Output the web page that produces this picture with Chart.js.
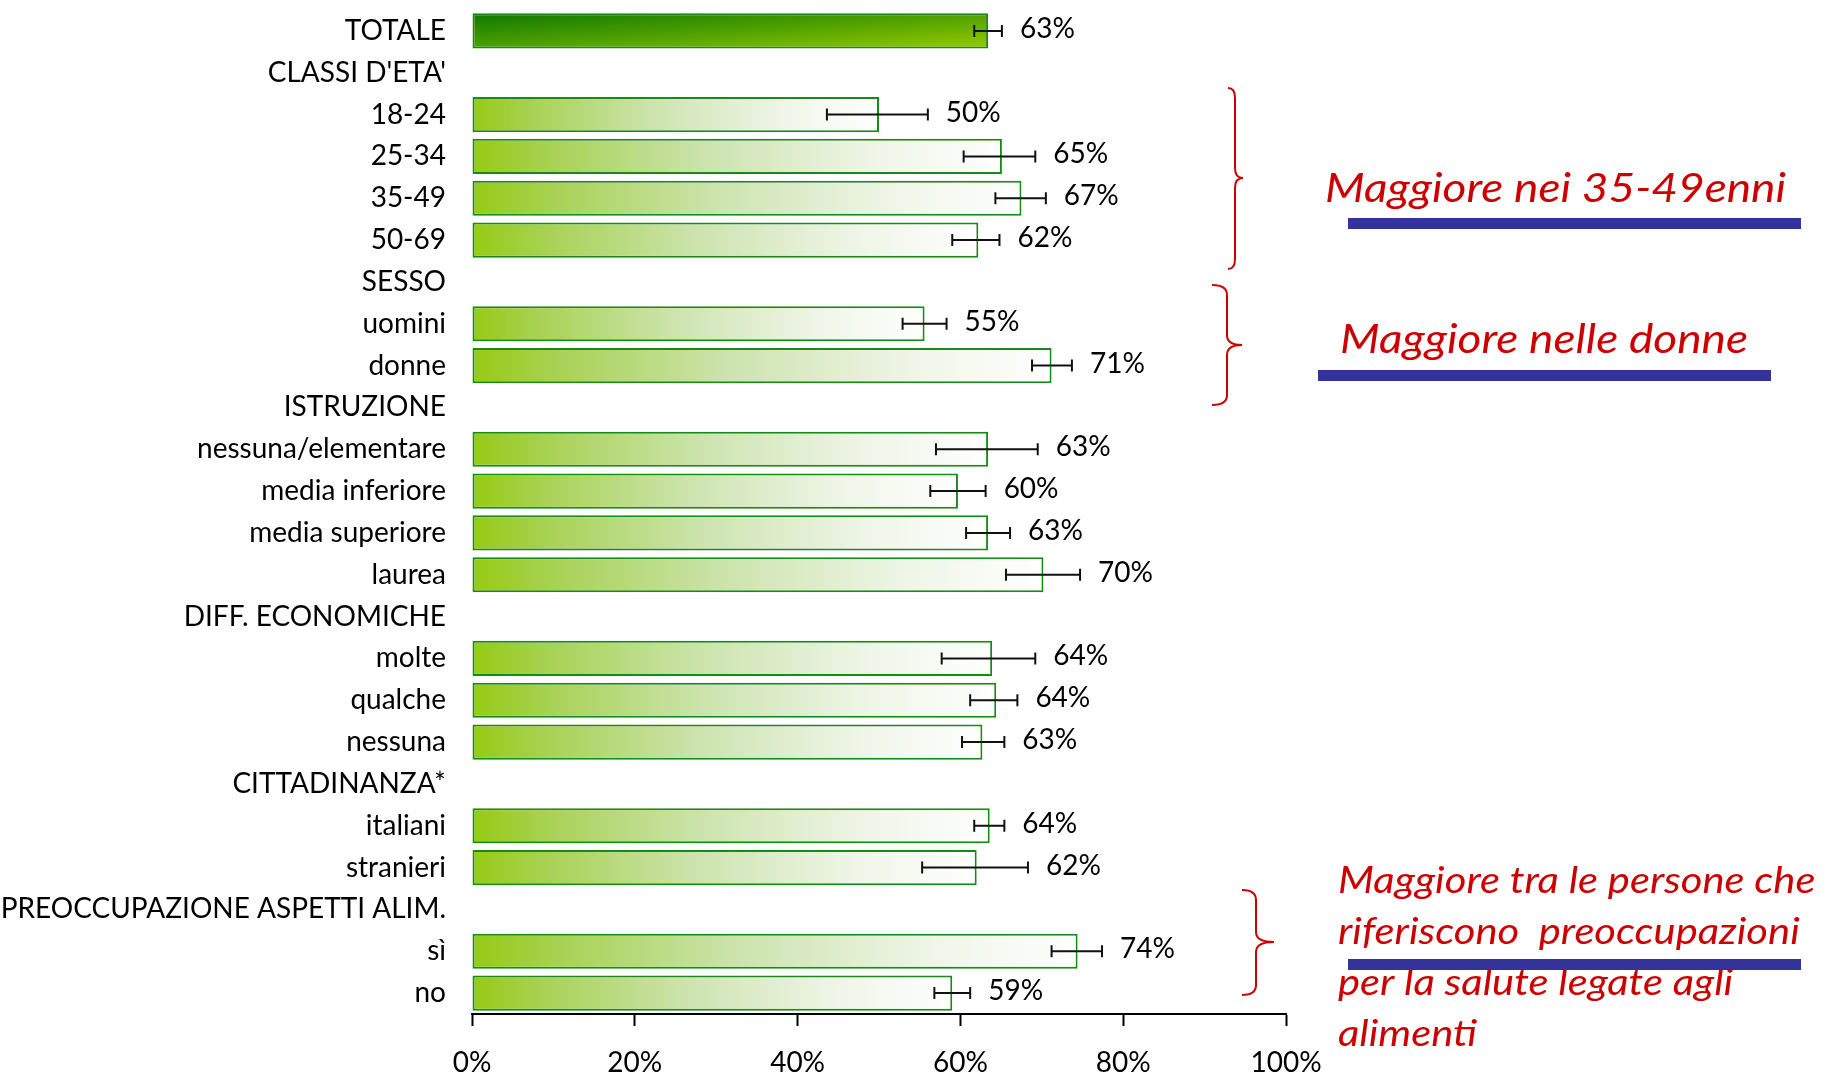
<!DOCTYPE html>
<html>
<head>
<meta charset="utf-8">
<title>Attenzione alimenti</title>
<script src="https://cdn.jsdelivr.net/npm/chart.js@4.4.1/dist/chart.umd.min.js"></script>
<style>
  body { margin: 0; background: #fff; }
</style>
</head>
<body>
<canvas id="myChart" width="1828" height="1076"></canvas>
<script>
const categories = ["TOTALE", "CLASSI D'ETA'", "18-24", "25-34", "35-49", "50-69", "SESSO", "uomini", "donne",
  "ISTRUZIONE", "nessuna/elementare", "media inferiore", "media superiore", "laurea", "DIFF. ECONOMICHE",
  "molte", "qualche", "nessuna", "CITTADINANZA*", "italiani", "stranieri", "PREOCCUPAZIONE ASPETTI ALIM.", "sì", "no"];
const values = [63.4, null, 50.0, 65.1, 67.5, 62.2, null, 55.6, 71.2, null, 63.4, 59.7, 63.4, 70.2, null,
  63.9, 64.4, 62.7, null, 63.6, 62.0, null, 74.4, 59.0];
const errLow = [61.7, null, 43.6, 60.4, 64.3, 59.0, null, 52.9, 68.8, null, 57.0, 56.3, 60.7, 65.6, null,
  57.7, 61.2, 60.2, null, 61.7, 55.3, null, 71.2, 56.8];
const errHigh = [65.1, null, 56.0, 69.2, 70.5, 64.8, null, 58.3, 73.7, null, 69.5, 63.1, 66.1, 74.7, null,
  69.2, 67.0, 65.4, null, 65.4, 68.3, null, 77.4, 61.2];
const valueLabels = ["63%", "", "50%", "65%", "67%", "62%", "", "55%", "71%", "", "63%", "60%", "63%", "70%", "",
  "64%", "64%", "63%", "", "64%", "62%", "", "74%", "59%"];
const xTicks = [0, 20, 40, 60, 80, 100];

const noteAge = ["Maggiore nei 35-49enni"];
const noteSex = ["Maggiore nelle donne"];
const noteFood = ["Maggiore tra le persone che", "riferiscono  preoccupazioni", "per la salute legate agli", "alimenti"];

const FONT = "Lato, 'Open Sans', sans-serif";
Chart.defaults.font.family = FONT;
Chart.defaults.color = "#000";

const ctx = document.querySelector("#myChart");

// fill for each bar: green fading to white, TOTALE gets the dark diagonal one
function barFill(c) {
  const chart = c.chart;
  if (!chart.chartArea || c.type !== "data" || c.raw == null) return "#9acd32";
  const xs = chart.scales.x;
  const ys = chart.scales.y;
  const x0 = xs.getPixelForValue(0);
  const x1 = xs.getPixelForValue(c.raw);
  if (c.dataIndex === 0) {
    const step = ys.getPixelForValue(1) - ys.getPixelForValue(0);
    const h = step * 0.84;
    const yTop = ys.getPixelForValue(0) - h / 2;
    const w = x1 - x0;
    const s = 2 / (1 / (w * w) + 1 / (h * h));
    const g = chart.ctx.createLinearGradient(x0, yTop, x0 + s / w, yTop + s / h);
    g.addColorStop(0, "rgb(14,120,0)");
    g.addColorStop(0.5, "rgb(80,160,0)");
    g.addColorStop(1, "rgb(150,202,0)");
    return g;
  }
  const g = chart.ctx.createLinearGradient(x0, 0, x1, 0);
  g.addColorStop(0, "rgb(150,202,20)");
  g.addColorStop(0.15, "rgb(168,210,85)");
  g.addColorStop(0.45, "rgb(205,228,175)");
  g.addColorStop(0.75, "rgb(238,245,230)");
  g.addColorStop(1, "rgb(255,255,255)");
  return g;
}

const errorBars = {
  id: "errorBars",
  afterDatasetsDraw(chart) {
    const { ctx, scales: { x, y } } = chart;
    ctx.save();
    ctx.strokeStyle = "#111";
    ctx.lineWidth = 2;
    ctx.fillStyle = "#000";
    ctx.font = "28px " + FONT;
    ctx.textBaseline = "middle";
    errLow.forEach((lo, i) => {
      if (lo == null) return;
      const yc = y.getPixelForValue(i);
      const xa = x.getPixelForValue(lo);
      const xb = x.getPixelForValue(errHigh[i]);
      ctx.beginPath();
      ctx.moveTo(xa, yc); ctx.lineTo(xb, yc);
      ctx.moveTo(xa, yc - 6); ctx.lineTo(xa, yc + 6);
      ctx.moveTo(xb, yc - 6); ctx.lineTo(xb, yc + 6);
      ctx.stroke();
      ctx.fillText(valueLabels[i], xb + 18, yc - 2);
    });
    ctx.restore();
  }
};

function brace(c, xl, xm, xr, yTop, yTip, yBot) {
  const r = 10;
  c.beginPath();
  c.moveTo(xl, yTop);
  c.quadraticCurveTo(xm, yTop, xm, yTop + r);
  c.lineTo(xm, yTip - r);
  c.quadraticCurveTo(xm, yTip, xr, yTip);
  c.quadraticCurveTo(xm, yTip, xm, yTip + r);
  c.lineTo(xm, yBot - r);
  c.quadraticCurveTo(xm, yBot, xl, yBot);
  c.stroke();
}

// the slide text is a bit wider than Lato, so stretch it sideways
function wideText(c, text, x, y, sx) {
  c.save();
  c.translate(x, y);
  c.scale(sx, 1);
  c.fillText(text, 0, 0);
  c.restore();
}

const notes = {
  id: "notes",
  afterDraw(chart) {
    const c = chart.ctx;
    c.save();
    c.strokeStyle = "#cc0000";
    c.lineWidth = 2;
    brace(c, 1228, 1235, 1243, 88, 178, 269);
    brace(c, 1212, 1227, 1242, 285, 345, 405);
    brace(c, 1242, 1256, 1274, 890, 942, 995);

    c.fillStyle = "#cc0000";
    c.textBaseline = "alphabetic";
    c.font = "italic 40px " + FONT;
    wideText(c, noteAge[0], 1325, 202, 1.15);
    wideText(c, noteSex[0], 1340, 353, 1.15);
    c.font = "italic 36px " + FONT;
    noteFood.forEach((t, i) => wideText(c, t, 1338, 893 + i * 51, 1.16));

    c.fillStyle = "#333399";
    c.fillRect(1348, 218, 453, 11);
    c.fillRect(1318, 370, 453, 11);
    c.fillRect(1348, 959, 453, 11);
    c.restore();
  }
};

new Chart(ctx, {
  type: "bar",
  data: {
    labels: categories,
    datasets: [{
      data: values,
      backgroundColor: barFill,
      borderColor: "#168c16",
      borderWidth: 2,
      borderSkipped: false,
      barPercentage: 0.84,
      categoryPercentage: 1
    }]
  },
  options: {
    indexAxis: "y",
    responsive: false,
    devicePixelRatio: 1,
    animation: false,
    layout: { padding: { left: 0, right: 542, top: 10, bottom: 0 } },
    plugins: { legend: { display: false }, tooltip: { enabled: false } },
    scales: {
      x: {
        min: 0,
        max: 100,
        afterBuildTicks: (s) => { s.ticks = xTicks.map((v) => ({ value: v })); },
        afterFit: (s) => { s.height = 62; },
        ticks: { callback: (v) => v + "%", font: { size: 28 }, color: "#000", padding: 20, maxRotation: 0 },
        grid: { drawOnChartArea: false, drawTicks: true, tickLength: 12, tickColor: "#000", tickWidth: 2 },
        border: { display: true, color: "#000", width: 2 }
      },
      y: {
        afterFit: (s) => { s.width = 472; s.paddingTop = 0; s.paddingBottom = 0; },
        grid: { display: false, drawTicks: false },
        border: { display: false },
        ticks: { font: { size: 28 }, color: "#000", padding: 26, autoSkip: false }
      }
    }
  },
  plugins: [errorBars, notes]
});
</script>
</body>
</html>
